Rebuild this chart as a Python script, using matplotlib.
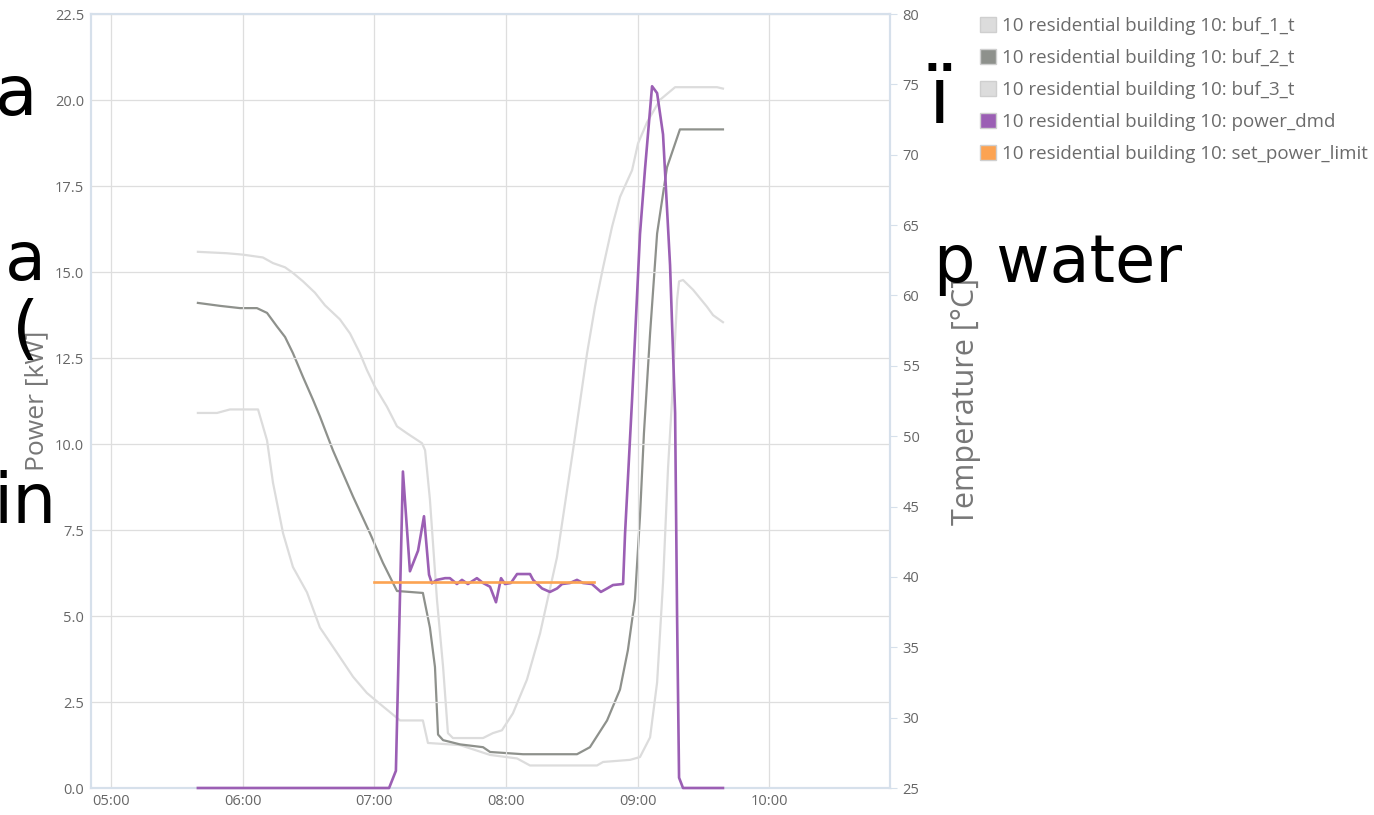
import matplotlib
matplotlib.use("Agg")
import matplotlib.pyplot as plt
from matplotlib.patches import Patch

plt.rcParams['font.family'] = ['Open Sans', 'DejaVu Sans']

# time axis in minutes after midnight
t_dmd = [339.6, 426.7, 429.8, 433.0, 436.2, 439.9, 442.6, 444.9, 446.2, 448.5,
         452.2, 454.4, 457.6, 459.9, 462.6, 466.7, 469.5, 472.7, 475.4, 477.7,
         479.5, 482.2, 485.0, 490.9, 492.3, 496.4, 500.0, 503.2, 505.5, 509.1,
         512.3, 515.0, 519.1, 523.2, 526.0, 528.7, 533.3, 534.2, 537.4, 541.0,
         543.3, 546.5, 548.8, 551.5, 554.7, 557.0, 557.9, 558.8, 560.6, 578.8]
power_dmd = [0, 0, 0.5, 9.2, 6.3, 6.9, 7.9, 6.2, 5.95, 6.05,
             6.1, 6.1, 5.93, 6.05, 5.93, 6.1, 5.96, 5.85, 5.4, 6.1,
             5.93, 5.96, 6.22, 6.22, 6.05, 5.8, 5.7, 5.8, 5.93, 5.96,
             6.05, 5.96, 5.93, 5.7, 5.8, 5.9, 5.93, 7.4, 11.3, 16.1,
             18.0, 20.4, 20.2, 19.0, 15.2, 10.9, 5.0, 0.3, 0, 0]

t_limit = [420.0, 520.0]
set_power_limit = [6.0, 6.0]

t_buf1 = [339.6, 352.8, 360.1, 369.2, 373.8, 379.3, 382.9, 387.5, 392.9, 397.5,
          404.3, 408.9, 413.4, 416.6, 420.3, 425.7, 430.3, 434.9, 441.7, 443.1,
          445.3, 448.5, 451.3, 453.5, 455.8, 469.5, 474.0, 478.1, 483.1, 489.5,
          495.5, 503.2, 510.5, 516.9, 520.5, 524.2, 528.3, 531.9, 537.4, 540.1,
          544.2, 550.1, 557.0, 576.1, 578.8]
buf_1_t = [63.1, 63.0, 62.9, 62.7, 62.3, 62.0, 61.6, 61.0, 60.2, 59.3,
           58.3, 57.3, 55.9, 54.7, 53.5, 52.1, 50.7, 50.2, 49.5, 49.0,
           45.5, 38.4, 33.6, 28.9, 28.55, 28.55, 28.9, 29.1, 30.3, 32.7,
           36.0, 41.4, 49.0, 55.9, 59.2, 62.0, 64.9, 67.0, 68.9, 70.8,
           72.3, 73.9, 74.8, 74.8, 74.7]

t_buf2 = [339.6, 349.7, 358.8, 366.5, 371.1, 375.6, 379.3, 382.9, 387.5, 392.0,
          395.2, 401.1, 410.3, 418.0, 423.9, 430.3, 442.1, 445.3, 447.6, 449.0,
          451.3, 459.0, 469.5, 472.7, 487.7, 512.3, 518.2, 526.0, 531.9, 535.5,
          538.7, 541.0, 542.8, 545.6, 548.8, 553.3, 559.2, 578.8]
buf_2_t = [59.47, 59.26, 59.1, 59.1, 58.76, 57.8, 57.05, 55.9, 54.2, 52.6,
           51.4, 49.0, 45.7, 43.1, 41.0, 39.0, 38.86, 36.4, 33.6, 28.8,
           28.4, 28.1, 27.9, 27.56, 27.4, 27.4, 27.9, 29.8, 32.0, 34.8,
           38.4, 44.3, 50.2, 57.3, 64.4, 69.1, 71.8, 71.8]

t_buf3 = [339.6, 348.3, 354.2, 367.0, 371.1, 373.8, 378.4, 382.9, 389.3, 395.2,
          403.0, 410.3, 416.6, 423.9, 431.7, 442.1, 444.4, 459.0, 472.7, 485.0,
          490.9, 521.4, 524.2, 536.5, 541.0, 545.6, 548.8, 551.5, 553.8, 555.6,
          557.9, 558.8, 560.6, 565.2, 571.5, 574.3, 578.8]
buf_3_t = [51.65, 51.65, 51.9, 51.9, 49.7, 46.7, 43.1, 40.7, 38.9, 36.4,
           34.6, 32.9, 31.75, 30.8, 29.8, 29.8, 28.2, 28.05, 27.35, 27.1,
           26.6, 26.6, 26.85, 27.0, 27.2, 28.6, 32.5, 39.6, 47.8, 52.6,
           59.7, 61.0, 61.1, 60.4, 59.2, 58.6, 58.1]

hour_ticks = [300, 360, 420, 480, 540, 600]
hour_labels = ["05:00", "06:00", "07:00", "08:00", "09:00", "10:00"]

labels = ["10 residential building 10: buf_1_t",
          "10 residential building 10: buf_2_t",
          "10 residential building 10: buf_3_t",
          "10 residential building 10: power_dmd",
          "10 residential building 10: set_power_limit"]

c_light = "#dcdcdc"
c_dark = "#8e918c"
c_purple = "#9b5fb4"
c_orange = "#fca352"
c_frame = "#d6e0eb"
c_tick = "#666666"

fig = plt.figure(figsize=(13.74, 8.15), dpi=100)
ax = fig.add_axes([91/1374, 1 - 788/815, 799/1374, 774/815])
ax2 = ax.twinx()

# temperatures on the right axis
ax2.plot(t_buf1, buf_1_t, color=c_light, lw=1.6)
ax2.plot(t_buf3, buf_3_t, color=c_light, lw=1.6)
ax2.plot(t_buf2, buf_2_t, color=c_dark, lw=1.6)

# power on the left axis, kept on top
ax.set_zorder(ax2.get_zorder() + 1)
ax.patch.set_visible(False)
ax.plot(t_dmd, power_dmd, color=c_purple, lw=1.9, zorder=3, clip_on=False)
ax.plot(t_limit, set_power_limit, color=c_orange, lw=1.9, zorder=3)

ax.set_xlim(290.9, 654.9)
ax.set_ylim(0, 22.5)
ax2.set_ylim(25, 80)
ax.set_yticks([i * 2.5 for i in range(10)])
ax.set_yticklabels([f"{i * 2.5:.1f}" for i in range(10)])
ax2.set_yticks(range(25, 81, 5))
ax.set_xticks(hour_ticks)
ax.set_xticklabels(hour_labels)

ax.grid(True, color="#dedede", lw=0.9)
ax.tick_params(axis="both", length=0, labelsize=10.5, labelcolor=c_tick, pad=5)
ax.tick_params(axis="x", pad=4)
ax2.tick_params(axis="y", length=5, width=0.8, color=c_frame, labelsize=10.5,
                labelcolor=c_tick, pad=4)
for a in (ax, ax2):
    for s in a.spines.values():
        s.set_color(c_frame)
        s.set_linewidth(1.5)

ax.set_ylabel("Power [kW]", fontsize=19, color="#777777", labelpad=4)
ax2.set_ylabel("Temperature [°C]", fontsize=22, color="#777777", labelpad=23)

handles = [Patch(facecolor=c, edgecolor="#cfcfcf", lw=1.0)
           for c in [c_light, c_dark, c_light, c_purple, c_orange]]
fig.legend(handles, labels, loc="upper left", bbox_to_anchor=(971/1374, 1 - 8/815),
           frameon=False, fontsize=13.5, labelcolor="#6b6b6b",
           handlelength=0.85, handleheight=0.85, handletextpad=0.3,
           labelspacing=0.74, borderpad=0)

# large overlapping text fragments
big = dict(color="black", family="DejaVu Sans", va="baseline", ha="left")
fig.text(-5/1374, 1 - 115/815, "a", fontsize=50, **big)
fig.text(-37/1374, 1 - 280/815, "na", fontsize=48, **big)
fig.text(12/1374, 1 - 351/815, "(", fontsize=50, **big)
fig.text(-7/1374, 1 - 523/815, "in", fontsize=50, **big)
fig.text(929/1374, 1 - 123/815, "ï", fontsize=56, **big)
fig.text(934/1374, 1 - 282/815, "p water", fontsize=47, **big)

fig.savefig("out.png", dpi=100)
